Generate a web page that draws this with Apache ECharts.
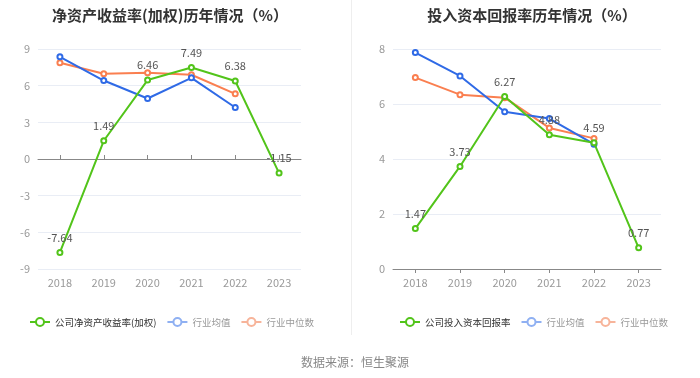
<!DOCTYPE html>
<html><head><meta charset="utf-8">
<script src="https://cdn.jsdelivr.net/npm/echarts@6/dist/echarts.min.js"></script>
<style>html,body{margin:0;padding:0;background:#fff}#c{width:700px;height:378px}</style>
</head><body><div id="c"></div>
<script>
const years = ['2018','2019','2020','2021','2022','2023'];
const roeCompany = [-7.64, 1.49, 6.46, 7.49, 6.38, -1.15];
const roeIndustryMean = [8.36, 6.42, 4.95, 6.64, 4.21, null];
const roeIndustryMedian = [7.87, 6.97, 7.05, 6.89, 5.33, null];
const roicCompany = [1.47, 3.73, 6.27, 4.88, 4.59, 0.77];
const roicIndustryMean = [7.87, 7.02, 5.72, 5.47, 4.54, null];
const roicIndustryMedian = [6.96, 6.34, 6.23, 5.13, 4.75, null];
const roeTicks = {min: -9, max: 9, interval: 3};
const roicTicks = {min: 0, max: 8, interval: 2};

const FONT = '"Noto Sans CJK SC", "Noto Sans", sans-serif';
const GREEN = '#52c41a', BLUE = '#2f6ae6', ORANGE = '#fa7f50';
const chart = echarts.init(document.getElementById('c'), null, {renderer: 'canvas'});

function lineSeries(name, data, color, xi, yi, withLabel, z) {
  return {
    name, type: 'line', data, xAxisIndex: xi, yAxisIndex: yi,
    symbol: 'emptyCircle', symbolSize: 5, showAllSymbol: true,
    lineStyle: {color, width: 2}, itemStyle: {color, borderWidth: 1.5},
    connectNulls: false, z,
    label: withLabel ? {show: true, position: 'top', color: '#555', fontSize: 11, fontFamily: FONT, distance: 6} : {show: false},
    emphasis: {disabled: true}
  };
}
function legendData(first) {
  return [
    {name: first, textStyle: {color: '#333'}},
    {name: '行业均值', textStyle: {color: '#999'}, itemStyle: {color: '#8fb0f2'}, lineStyle: {color: '#8fb0f2', width: 2, type: 'solid'}},
    {name: '行业中位数', textStyle: {color: '#999'}, itemStyle: {color: '#f7b49a'}, lineStyle: {color: '#f7b49a', width: 2, type: 'solid'}}
  ];
}
const axisLabel = {color: '#999', fontSize: 11, fontFamily: FONT};
const splitLine = {show: true, lineStyle: {color: '#e9edf5', width: 1}};

chart.setOption({
  animation: false,
  textStyle: {fontFamily: FONT},
  title: [
    {text: '净资产收益率(加权)历年情况（%）', left: 165, top: 3, textAlign: 'center', textStyle: {fontSize: 15, fontWeight: 'bold', color: '#333', fontFamily: FONT}},
    {text: '投入资本回报率历年情况（%）', left: 527, top: 3, textAlign: 'center', textStyle: {fontSize: 15, fontWeight: 'bold', color: '#333', fontFamily: FONT}},
    {text: '数据来源：恒生聚源', left: 350, top: 351, textAlign: 'center', textStyle: {fontSize: 12, fontWeight: 'normal', color: '#888', fontFamily: FONT}}
  ],
  graphic: [{type: 'line', shape: {x1: 351.5, y1: 0, x2: 351.5, y2: 335}, style: {stroke: '#eeeeee', lineWidth: 1}}],
  legend: [
    {data: legendData('公司净资产收益率(加权)'), left: 24, top: 312, itemWidth: 20, itemHeight: 10, itemGap: 10,
     textStyle: {fontSize: 9.5, fontFamily: FONT}, selectedMode: false},
    {data: legendData('公司投入资本回报率'), left: 394, top: 312, itemWidth: 20, itemHeight: 10, itemGap: 10,
     textStyle: {fontSize: 9.5, fontFamily: FONT}, selectedMode: false}
  ],
  grid: [
    {left: 38, top: 49, width: 263, height: 220},
    {left: 393, top: 49, width: 268, height: 220}
  ],
  xAxis: [
    {type: 'category', data: years, gridIndex: 0, axisLine: {show: false, onZero: false}, axisTick: {show: false}, axisLabel: Object.assign({margin: 8}, axisLabel)},
    {type: 'category', data: years, gridIndex: 0, axisLine: {show: true, onZero: true, lineStyle: {color: '#888'}}, axisTick: {show: true, alignWithLabel: true, length: 4, lineStyle: {color: '#888'}}, axisLabel: {show: false}},
    {type: 'category', data: years, gridIndex: 1, axisLine: {show: true, lineStyle: {color: '#888'}}, axisTick: {show: true, alignWithLabel: true, length: 4, lineStyle: {color: '#888'}}, axisLabel: Object.assign({margin: 8}, axisLabel)}
  ],
  yAxis: [
    Object.assign({type: 'value', gridIndex: 0, axisLine: {show: false}, axisTick: {show: false}, axisLabel, splitLine}, roeTicks),
    Object.assign({type: 'value', gridIndex: 1, axisLine: {show: false}, axisTick: {show: false}, axisLabel, splitLine}, roicTicks)
  ],
  series: [
    lineSeries('公司净资产收益率(加权)', roeCompany, GREEN, 0, 0, true, 5),
    lineSeries('行业均值', roeIndustryMean, BLUE, 0, 0, false, 4),
    lineSeries('行业中位数', roeIndustryMedian, ORANGE, 0, 0, false, 3),
    lineSeries('公司投入资本回报率', roicCompany, GREEN, 2, 1, true, 5),
    lineSeries('行业均值', roicIndustryMean, BLUE, 2, 1, false, 4),
    lineSeries('行业中位数', roicIndustryMedian, ORANGE, 2, 1, false, 3)
  ]
});
</script></body></html>
